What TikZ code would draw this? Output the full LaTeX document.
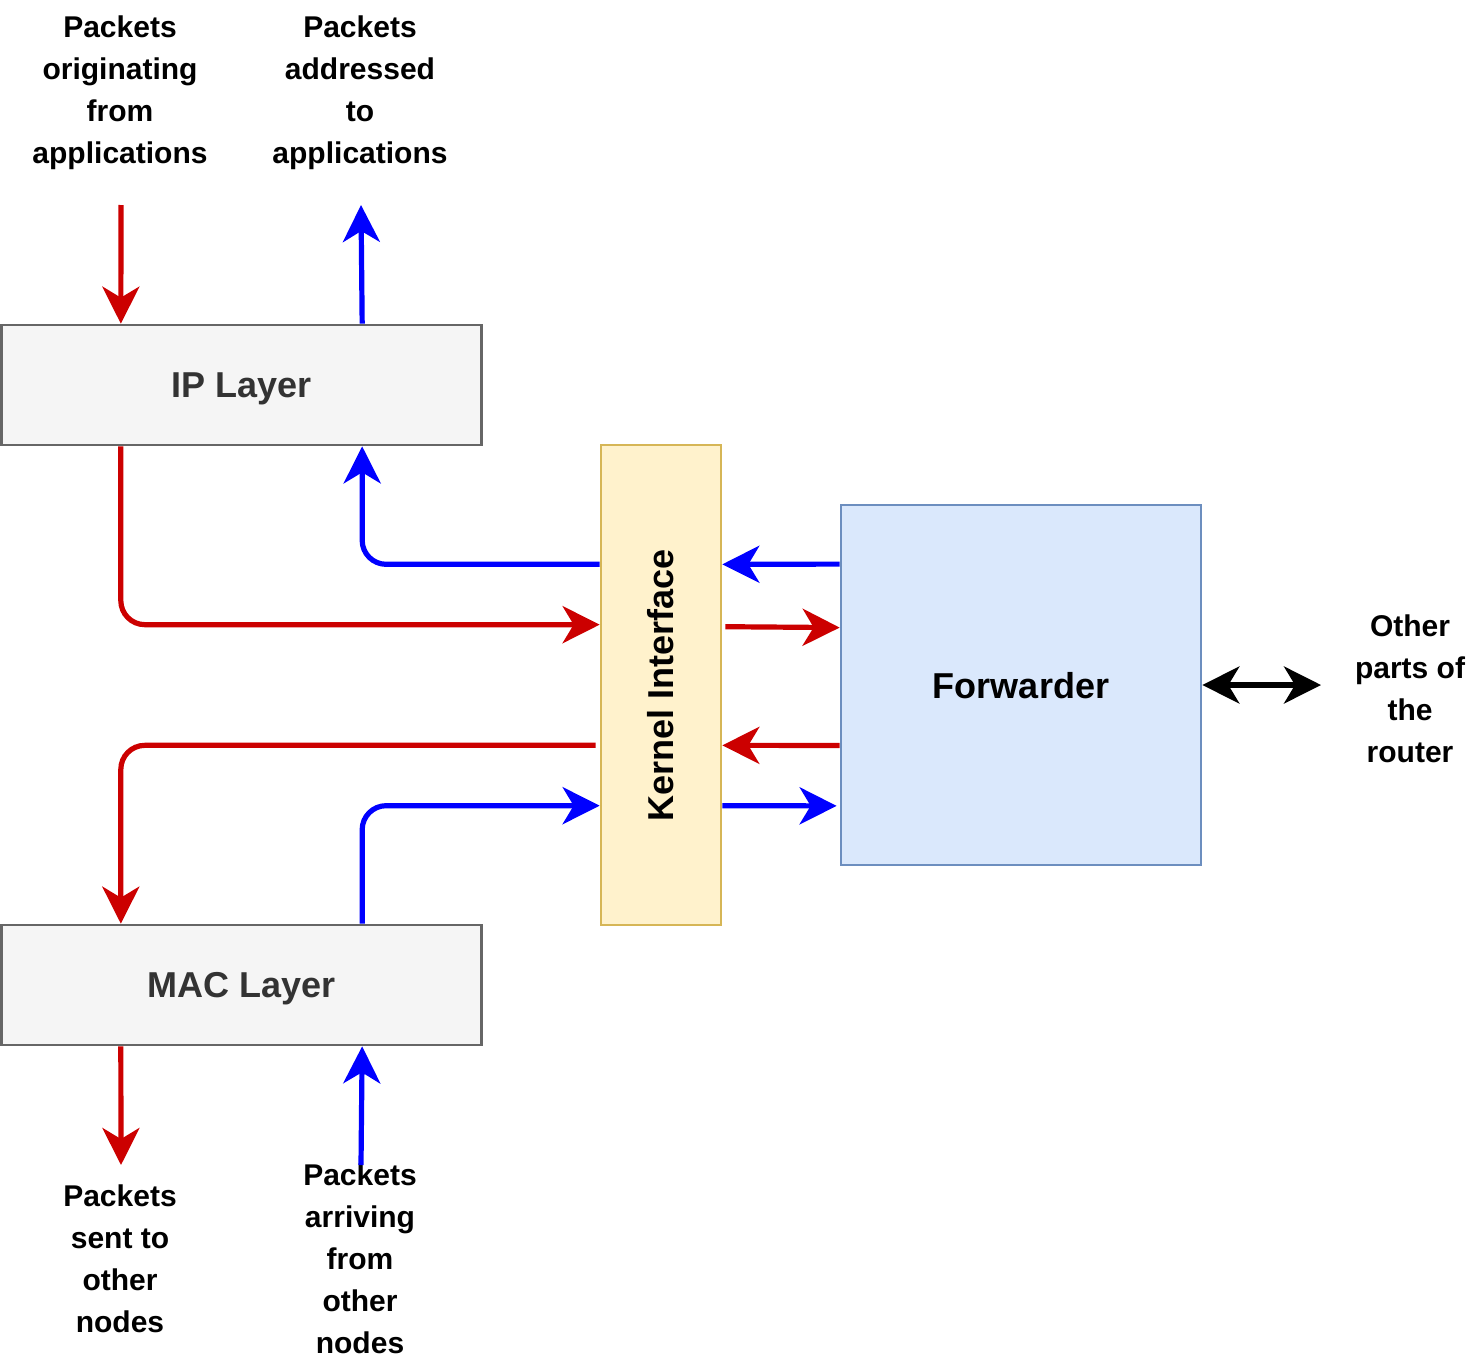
\documentclass[tikz,border=0pt]{standalone}
\usepackage{fontspec}
\setmainfont{Liberation Sans}
\usetikzlibrary{arrows.meta,calc}
\definecolor{cred}{HTML}{CC0000}
\definecolor{cblue}{HTML}{0000FF}
\definecolor{ipfill}{HTML}{F5F5F5}
\definecolor{ipdraw}{HTML}{666666}
\definecolor{iptext}{HTML}{333333}
\definecolor{kifill}{HTML}{FFF2CC}
\definecolor{kidraw}{HTML}{D6B656}
\definecolor{fwfill}{HTML}{DAE8FC}
\definecolor{fwdraw}{HTML}{6C8EBF}
\begin{document}
\begin{tikzpicture}[x=0.5pt,y=-0.5pt,
  box/.style={draw, line width=1.35pt, inner sep=0pt, text depth=0pt, font=\fontsize{18}{21}\selectfont\bfseries},
  lbl/.style={align=center, font=\fontsize{15}{21}\selectfont\bfseries, inner sep=0pt},
  flow/.style={line width=2.6pt, rounded corners=12pt, -{Stealth[length=18.5pt,width=18.5pt,inset=5.5pt]}},
  both/.style={line width=2.6pt, {Stealth[length=18.5pt,width=18.5pt,inset=5.5pt]}-{Stealth[length=18.5pt,width=18.5pt,inset=5.5pt]}}]
\useasboundingbox (0,0) rectangle (1476,1359);
\fill[white] (0,0) rectangle (1476,1359);

% boxes
\node[box, fill=ipfill, draw=ipdraw, text=iptext, minimum width=240pt, minimum height=60pt] (ip) at (241.5,385) {IP Layer};
\node[box, fill=ipfill, draw=ipdraw, text=iptext, minimum width=240pt, minimum height=60pt] (mac) at (241.5,985) {MAC Layer};
\node[box, fill=kifill, draw=kidraw, minimum width=60pt, minimum height=240pt] (ki) at (661,685) {\rotatebox{90}{Kernel Interface}};
\node[box, fill=fwfill, draw=fwdraw, minimum width=180pt, minimum height=180pt] (fw) at (1021,685) {Forwarder};

% labels
\node[lbl] (tA) at (120,92.5) {Packets\\originating\\from\\applications};
\node[lbl] (tB) at (360,92.5) {Packets\\addressed\\to\\applications};
\node[lbl] (tC) at (120,1259) {Packets\\sent to\\other\\nodes};
\node[lbl] (tD) at (360,1259) {Packets\\arriving\\from\\other\\nodes};
\node[lbl] (tE) at (1410,689) {Other\\parts of\\the\\router};

% free ends
\coordinate (a1) at (121,205);
\coordinate (a2) at (361,205);
\coordinate (a3) at (121,1165);
\coordinate (a4) at (361,1165);
\coordinate (a5) at (1321,685);

% anchor points
\coordinate (ipN1) at ($(ip.north west)!0.25!(ip.north east)$);
\coordinate (ipN2) at ($(ip.north west)!0.75!(ip.north east)$);
\coordinate (ipS1) at ($(ip.south west)!0.25!(ip.south east)$);
\coordinate (ipS2) at ($(ip.south west)!0.75!(ip.south east)$);
\coordinate (macN1) at ($(mac.north west)!0.25!(mac.north east)$);
\coordinate (macN2) at ($(mac.north west)!0.75!(mac.north east)$);
\coordinate (macS1) at ($(mac.south west)!0.25!(mac.south east)$);
\coordinate (macS2) at ($(mac.south west)!0.75!(mac.south east)$);
\coordinate (kw1) at ($(ki.north west)!0.25!(ki.south west)$);
\coordinate (kw2) at ($(ki.north west)!0.375!(ki.south west)$);
\coordinate (kw3) at ($(ki.north west)!0.625!(ki.south west)$);
\coordinate (kw4) at ($(ki.north west)!0.75!(ki.south west)$);
\coordinate (ke1) at ($(ki.north east)!0.25!(ki.south east)$);
\coordinate (ke2) at ($(ki.north east)!0.3792!(ki.south east)$);
\coordinate (ke3) at ($(ki.north east)!0.625!(ki.south east)$);
\coordinate (ke4) at ($(ki.north east)!0.75!(ki.south east)$);
\coordinate (fw1) at ($(fw.north west)!1/6!(fw.south west)$);
\coordinate (fw2) at ($(fw.north west)!0.3417!(fw.south west)$);
\coordinate (fw3) at ($(fw.north west)!2/3!(fw.south west)$);
\coordinate (fw4) at ($(fw.north west)!5/6!(fw.south west)$);

% connectors
\draw[flow, cred] (a1) -- (ipN1);
\draw[flow, cblue] (ipN2) -- (a2);
\draw[flow, cred] (ipS1) |- (kw2);
\draw[flow, cblue] (kw1) -| (ipS2);
\draw[flow, cred] ([xshift=-2pt]kw3) -| (macN1);
\draw[flow, cblue] (macN2) |- (kw4);
\draw[flow, cblue] (fw1) -- (ke1);
\draw[flow, cred] ([xshift=1.5pt]ke2) -- (fw2);
\draw[flow, cred] (fw3) -- (ke3);
\draw[flow, cblue] (ke4) -- ([xshift=-1.5pt]fw4);
\draw[flow, cred] (macS1) -- (a3);
\draw[flow, cblue] (a4) -- (macS2);
\draw[both, black] (fw.east) -- (a5);
\end{tikzpicture}
\end{document}
